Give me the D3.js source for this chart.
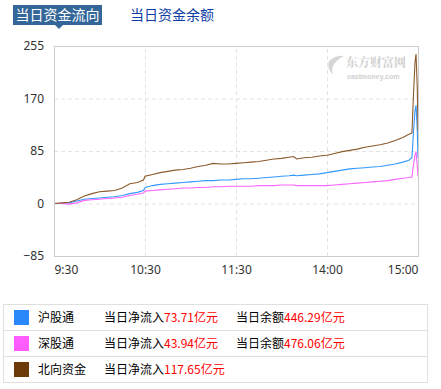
<!DOCTYPE html>
<html>
<head>
<meta charset="utf-8">
<script src="https://cdn.jsdelivr.net/npm/d3@7"></script>
<style>
  body { margin: 0; background: #fff; font-family: "Noto Sans CJK SC", "Noto Sans", sans-serif; }
  svg { display: block; }
</style>
</head>
<body>
<svg id="chart" width="441" height="389"></svg>
<script>
'use strict';

// minutes after 9:30 (lunch break removed, 240 = 15:00)
var minutes = [0, 5, 10, 15, 20, 25, 30, 35, 40, 45, 50, 55, 59, 60, 65, 70, 75, 80, 85, 90,
    95, 100, 105, 110, 115, 120, 125, 130, 135, 140, 145, 150, 155, 158, 160, 165, 170, 175,
    180, 185, 190, 195, 200, 205, 210, 215, 220, 225, 230, 234, 236, 237, 238, 238.7, 239.5, 240];

var huValues = [0, 0, 1, 4, 7, 8, 9, 10, 11, 13, 16, 18, 21, 26, 29, 31, 32, 33, 34, 35,
    36, 37, 37, 38, 38, 39, 40, 40, 41, 42, 43, 44, 45, 46, 45, 46, 47, 48,
    50, 52, 54, 56, 57, 58, 59, 60, 62, 64, 67, 70, 74, 115, 150, 159, 120, 73.71];

var shenValues = [0, 0, -1, 1, 5, 6, 7, 8, 9, 10, 13, 15, 17, 20, 21, 22, 23, 24, 25, 25,
    26, 26, 27, 27, 28, 28, 28, 28, 29, 29, 29, 30, 30, 30, 29, 29, 29, 29,
    29, 30, 31, 32, 33, 34, 35, 36, 37, 39, 41, 42, 43, 62, 78, 84, 62, 43.94];

var northValues = [0, 1, 2, 6, 12, 16, 19, 20, 21, 25, 32, 34, 38, 44, 47, 50, 52, 54, 55, 57,
    60, 62, 65, 64, 64, 65, 66, 67, 68, 70, 72, 73, 75, 76, 72, 74, 75, 77,
    78, 81, 84, 86, 88, 91, 93, 95, 98, 102, 107, 112, 114, 175, 228, 242, 190, 117.65];

var xTickValues = [0, 60, 120, 180, 240];
var xTickLabels = ['9:30', '10:30', '11:30', '14:00', '15:00'];
var yTickValues = [-85, 0, 85, 170, 255];

var tabs = ['当日资金流向', '当日资金余额'];

var seriesNames = ['沪股通', '深股通', '北向资金'];
var inflows = ['73.71', '43.94', '117.65'];
var balances = ['446.29', '476.06', null];

var lineColors = ['#3399ff', '#ff66ff', '#8b5a2b'];
var swatchColors = ['#2b88fa', '#ff5cff', '#6b3a08'];
var seriesValues = [huValues, shenValues, northValues];

var svg = d3.select('#chart');

// Tabs
svg.append('rect')
    .attr('x', 13).attr('y', 5)
    .attr('width', 89).attr('height', 20)
    .style('fill', '#336699');
svg.append('path')
    .attr('d', 'M55,25 L63,25 L59,29 Z')
    .style('fill', '#336699');
svg.append('text')
    .attr('x', 57.5).attr('y', 20)
    .attr('text-anchor', 'middle')
    .style('font-size', '14px')
    .style('fill', '#fff')
    .text(tabs[0]);
svg.append('text')
    .attr('x', 130).attr('y', 20)
    .style('font-size', '14px')
    .style('fill', '#0e3ea3')
    .text(tabs[1]);

// Scales
var x = d3.scaleLinear().domain([0, 240]).range([54, 418]);
var y = d3.scaleLinear().domain([-85, 255]).range([256, 46]);

// Grid
var grid = svg.append('g');
grid.selectAll('line.h')
    .data([0, 85, 170])
    .enter().append('line')
    .attr('x1', x.range()[0]).attr('x2', x.range()[1])
    .attr('y1', function(d) { return y(d) + 0.5; })
    .attr('y2', function(d) { return y(d) + 0.5; })
    .style('stroke', '#e3e3e3')
    .style('stroke-dasharray', '4,3');
grid.selectAll('line.v')
    .data([60, 120, 180])
    .enter().append('line')
    .attr('y1', y.range()[0]).attr('y2', y.range()[1])
    .attr('x1', function(d) { return Math.round(x(d)) + 0.5; })
    .attr('x2', function(d) { return Math.round(x(d)) + 0.5; })
    .style('stroke', '#e3e3e3')
    .style('stroke-dasharray', '4,3');

// Watermark
var wm = svg.append('g').style('pointer-events', 'none');
wm.append('path')
    .attr('d', 'M329,61 Q336,55 344,56 Q337,59 333,66 Q331,71 334,75 Q326,69 329,61 Z')
    .style('fill', '#d6d6d6');
wm.append('text')
    .attr('x', 346).attr('y', 67)
    .style('font-family', '"Noto Serif CJK SC", "Noto Sans CJK SC", serif')
    .style('font-size', '12px')
    .style('font-weight', 'bold')
    .style('fill', '#d0d0d0')
    .text('东方财富网');
wm.append('text')
    .attr('x', 347).attr('y', 79)
    .style('font-family', 'Arial, "Liberation Sans", sans-serif')
    .style('font-size', '7px')
    .style('font-weight', 'bold')
    .style('fill', '#d0d0d0')
    .text('eastmoney.com');

// Lines
var line = d3.line()
    .x(function(d, i) { return x(minutes[i]); })
    .y(function(d) { return y(d); });

svg.append('g').selectAll('path')
    .data(seriesValues)
    .enter().append('path')
    .attr('d', line)
    .style('fill', 'none')
    .style('stroke', function(d, i) { return lineColors[i]; })
    .style('stroke-width', 1.1);

// Frame
svg.append('rect')
    .attr('x', 54.5).attr('y', 46.5)
    .attr('width', 364).attr('height', 210)
    .style('fill', 'none')
    .style('stroke', '#cccccc');

// y axis
var yAxis = d3.axisLeft(y)
    .tickValues(yTickValues)
    .tickSize(0)
    .tickPadding(10);
var yAxisEl = svg.append('g')
    .attr('transform', 'translate(54,0)')
    .call(yAxis);
yAxisEl.select('.domain').remove();
yAxisEl.selectAll('text')
    .style('font-family', '"Noto Sans", "DejaVu Sans", sans-serif')
    .style('font-size', '12px')
    .style('fill', '#333');

// x axis
var xAxis = d3.axisBottom(x)
    .tickValues(xTickValues)
    .tickSize(0)
    .tickPadding(9)
    .tickFormat(function(d, i) { return xTickLabels[i]; });
var xAxisEl = svg.append('g')
    .attr('transform', 'translate(0,256)')
    .call(xAxis);
xAxisEl.select('.domain').remove();
xAxisEl.selectAll('text')
    .style('font-family', '"Noto Sans", "DejaVu Sans", sans-serif')
    .style('font-size', '12px')
    .style('fill', '#333')
    .attr('text-anchor', function(d, i) {
        return i === 0 ? 'start' : (i === xTickValues.length - 1 ? 'end' : 'middle');
    });

// Legend table
var legend = svg.append('g');
var rowTop = 304, rowH = 26;
legend.append('rect')
    .attr('x', 3.5).attr('y', rowTop + 0.5)
    .attr('width', 424).attr('height', rowH * 3)
    .style('fill', 'none')
    .style('stroke', '#e0e0e0')
    .style('stroke-width', 1);

var rows = legend.selectAll('g.row')
    .data(seriesNames)
    .enter().append('g')
    .attr('class', 'row')
    .attr('transform', function(d, i) { return 'translate(0,' + (rowTop + i * rowH) + ')'; });

rows.filter(function(d, i) { return i > 0; })
    .append('line')
    .attr('x1', 3.5).attr('x2', 427.5)
    .attr('y1', 0.5).attr('y2', 0.5)
    .style('stroke', '#e0e0e0');

rows.append('rect')
    .attr('x', 14).attr('y', 6)
    .attr('width', 15).attr('height', 15)
    .style('fill', function(d, i) { return swatchColors[i]; });

rows.append('text')
    .attr('x', 38).attr('y', 18)
    .style('font-size', '12px')
    .style('fill', '#000')
    .text(function(d) { return d; });

var inflowText = rows.append('text')
    .attr('x', 104).attr('y', 18)
    .style('font-size', '12px')
    .style('fill', '#000');
inflowText.append('tspan').text('当日净流入');
inflowText.append('tspan')
    .style('fill', '#ff0000')
    .text(function(d, i) { return inflows[i] + '亿元'; });

var balanceText = rows.filter(function(d, i) { return balances[i] != null; })
    .append('text')
    .attr('x', 236).attr('y', 18)
    .style('font-size', '12px')
    .style('fill', '#000');
balanceText.append('tspan').text('当日余额');
balanceText.append('tspan')
    .style('fill', '#ff0000')
    .text(function(d, i) { return balances[i] + '亿元'; });
</script>
</body>
</html>
